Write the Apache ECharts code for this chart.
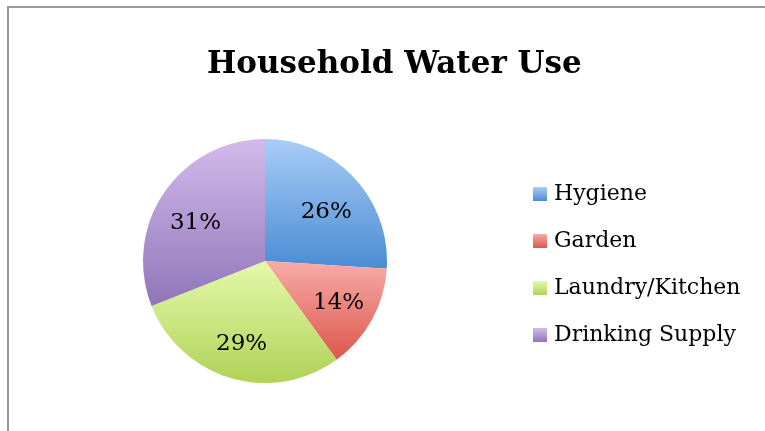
<!DOCTYPE html>
<html>
<head>
<meta charset="utf-8">
<script src="https://cdn.jsdelivr.net/npm/echarts@6/dist/echarts.min.js"></script>
<style>
  html, body { margin: 0; padding: 0; background: #fff; }
  #main { width: 765px; height: 431px; }
</style>
</head>
<body>
<div id="main"></div>
<script>
const categories = ['Hygiene', 'Garden', 'Laundry/Kitchen', 'Drinking Supply']
const values = [26, 14, 29, 31]
// top / bottom colours of each slice gradient
const topColors = ['#a8cdf7', '#f8aca7', '#e4f9ab', '#d2bbea']
const bottomColors = ['#4b8bd3', '#dc574c', '#b0d257', '#8f75b9']

const fontFamily = '"DejaVu Serif", "Liberation Serif", serif'

function grad(i) {
  return new echarts.graphic.LinearGradient(0, 0, 0, 1, [
    { offset: 0, color: topColors[i] },
    { offset: 1, color: bottomColors[i] }
  ])
}

const pieData = categories.map(function (name, i) {
  return { name: name, value: values[i], itemStyle: { color: grad(i) } }
})
// same slices, transparent, only to carry the percentage labels further out
const labelData = categories.map(function (name, i) {
  return { name: name, value: values[i], itemStyle: { color: 'rgba(0,0,0,0)' } }
})

let myChart = echarts.init(document.getElementById('main'))
let option = {
  animation: false,
  title: {
    text: 'Household Water Use',
    left: 202,
    top: 44,
    textStyle: {
      fontFamily: fontFamily,
      fontWeight: 'bold',
      fontSize: 31,
      color: '#000'
    }
  },
  legend: {
    orient: 'vertical',
    left: 533,
    top: 182,
    padding: 0,
    data: categories,
    itemWidth: 14,
    itemHeight: 14,
    itemGap: 23,
    icon: 'rect',
    textStyle: {
      fontFamily: fontFamily,
      fontSize: 22,
      lineHeight: 24,
      color: '#000',
      padding: [0, 0, 0, 2]
    }
  },
  graphic: [{
    type: 'rect',
    silent: true,
    shape: { x: 8, y: 7, width: 800, height: 500 },
    style: { fill: 'none', stroke: '#999', lineWidth: 2 }
  }],
  series: [{
    type: 'pie',
    center: [265, 261],
    radius: 122,
    startAngle: 90,
    clockwise: true,
    silent: true,
    label: { show: false },
    labelLine: { show: false },
    data: pieData
  }, {
    type: 'pie',
    center: [265, 261],
    radius: [40, 122],
    startAngle: 90,
    clockwise: true,
    silent: true,
    label: {
      show: true,
      position: 'inside',
      formatter: '{d}%',
      fontFamily: fontFamily,
      fontSize: 23,
      color: '#000'
    },
    labelLine: { show: false },
    // Excel sets the upper labels a bit lower than the radial midpoint
    labelLayout: function (params) {
      return params.labelRect.y < 240 ? { dy: 9 } : { dy: 2 }
    },
    data: labelData
  }]
}
myChart.setOption(option)
</script>
</body>
</html>
